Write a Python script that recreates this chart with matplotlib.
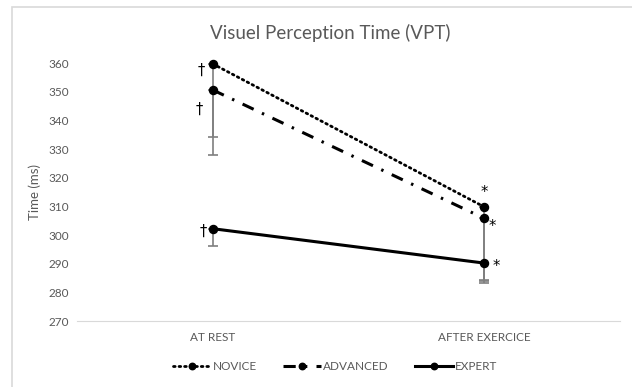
import matplotlib
matplotlib.use('Agg')
import numpy as np
import matplotlib.pyplot as plt
from matplotlib.patches import Rectangle

plt.rcParams['font.family'] = ['Lato', 'DejaVu Sans']

#- data
conditions = ['AT REST', 'AFTER EXERCICE']
novice = [359.7, 309.8]
advanced = [350.6, 305.8]
expert = [302.2, 290.2]
novice_err = [25.4, 25.7]
advanced_err = [22.7, 22.6]
expert_err = [6.2, 6.0]
yticks = np.arange(270, 361, 10)

# significance marks: (series, index, symbol, offset px)
marks = [('novice', 0, '†', (-12, -6)), ('advanced', 0, '†', (-14, -19)),
         ('expert', 0, '†', (-10, -3)), ('novice', 1, '*', (0, 14)),
         ('advanced', 1, '*', (8, -8)), ('expert', 1, '*', (12, -3))]

grey = '#595959'
W, H = 632, 387
fig = plt.figure(figsize=(W/100, H/100), dpi=100)
ax = fig.add_axes([77/W, (H-321)/H, (620-77)/W, (321-63)/H])

x = np.arange(len(conditions))
series = {'novice': novice, 'advanced': advanced, 'expert': expert}

# error bars (minus only), drawn under the lines
for vals, err in [(novice, novice_err), (advanced, advanced_err), (expert, expert_err)]:
    ax.errorbar(x, vals, yerr=[err, [0]*len(err)], fmt='none', ecolor='#7f7f7f',
                elinewidth=1.2, capsize=3.5, capthick=1.2, zorder=2, clip_on=False)

ms = 5.8
ax.plot(x, novice, color='black', lw=2, ls=(0, (0.6, 1.4)), dash_capstyle='round',
        marker='o', ms=ms, label='NOVICE', zorder=3, clip_on=False)
ax.plot(x, advanced, color='black', lw=2.2, ls=(0, (4, 3, 0.8, 3)),
        marker='o', ms=ms, label='ADVANCED', zorder=3, clip_on=False)
ax.plot(x, expert, color='black', lw=2.2, ls='-',
        marker='o', ms=ms, label='EXPERT', zorder=3, clip_on=False)

for name, i, sym, off in marks:
    ax.annotate(sym, (x[i], series[name][i]), xytext=off, textcoords='offset pixels',
                ha='center', va='center', fontsize=10.5, color='black',
                family=['DejaVu Sans'])

ax.set_xlim(-0.5, 1.5)
ax.set_ylim(270, 360)
ax.set_xticks(x)
ax.set_xticklabels(conditions)
ax.set_yticks(yticks)
ax.tick_params(length=0, labelsize=8.5, colors=grey)
ax.tick_params(axis='x', pad=8)
ax.tick_params(axis='y', pad=6)
for s in ['top', 'right', 'left']:
    ax.spines[s].set_visible(False)
ax.spines['bottom'].set_color('#d9d9d9')
ax.set_ylabel('Time (ms)', fontsize=9.5, color=grey, labelpad=5)

fig.text(330/W, 1-33/H, 'Visuel Perception Time (VPT)', ha='center', va='center',
         fontsize=13.5, color=grey)

leg = fig.legend(loc='center', bbox_to_anchor=(335/W, 1-367/H), ncol=3, frameon=False,
                 fontsize=8.5, handlelength=3.2, handletextpad=0.2, columnspacing=2.2,
                 markerscale=0.8)
for t in leg.get_texts():
    t.set_color(grey)

# chart area outline (cropped on right/bottom)
fig.patches.append(Rectangle((12/W, -0.1), 1.2, 1-7/H+0.1, transform=fig.transFigure,
                             fill=False, ec='#d9d9d9', lw=1.2))

plt.savefig('out.png', dpi=100)
